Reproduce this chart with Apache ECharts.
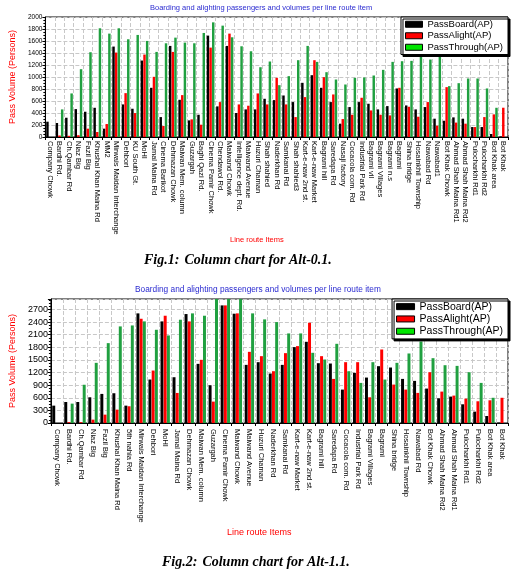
<!DOCTYPE html>
<html>
<head>
<meta charset="utf-8">
<script src="https://cdn.jsdelivr.net/npm/echarts@6/dist/echarts.min.js"></script>
<style>
html,body{margin:0;padding:0;background:#fff;}
#c{width:513px;height:574px;}
</style>
</head>
<body>
<div id="c"></div>
<script>
// ---------- Fig.1 (Alt-0.1) ----------
const cats1 = ['Company Chowk','Bardhi Rd.','Ch.Qambar Rd','Niaz Big','Fazil Big','Khushal Khan Maina Rd','MM2','Mirwais Maidan Interchange','Dehbori','KU South Gt.','MoHI','Jamal Maina Rd','Cinema Barikot','Dehmazan Chowk','Maiwan Mem. column','Guzargah','Baghi Qazi Rd.','Cinema Pamir Chowk','Chendawol Rd.','Maiwand Chowk','Intelligence dept. Rd.','Maiwand Avenue','Huzuri Chaman','Shah shahied','Naderkhan Rd','Samkanai Rd','Shah shahied3','Kart-e-naw 2nd st.','Kart-e-naw Market','Bagrami hill','Saredapa Rd','Nasaji factory','Cocacola com. Rd','Industrial Park Rd','Bagrami vil','Bagrami Villages','Bagrami n.s','Bagrami','Shina bridge','Hosainkhil Township','Nawabad Rd','Nawabad1','Bot Khak Chowk','Ahmad Shah Maina Rd1','Ahmad Shah Maina Rd2','Pulocharkhi Rd1','Pulocharkhi Rd2','Bot Khak area','Bot Khak'];
const board1 = [255,233,321,465,421,487,139,1507,543,471,1274,820,332,1518,620,277,371,1690,510,1518,400,460,460,637,615,692,582,903,1030,820,582,222,499,582,554,460,515,809,526,460,499,305,271,327,305,166,166,50,10];
const alight1 = [0,25,20,30,139,83,216,1407,731,399,1374,1003,183,1418,698,294,205,1490,582,1723,543,521,726,543,986,543,332,665,1280,997,709,299,371,654,443,371,360,820,504,338,582,188,831,240,222,166,332,377,488];
const through1 = [0,460,726,1130,1413,1812,1723,1812,1629,1701,1601,1418,1562,1656,1573,1562,1734,1911,1856,1662,1512,1429,1163,1258,864,1014,1280,1518,1252,1080,958,875,986,992,1025,1119,1252,1263,1269,1450,1291,1450,848,897,975,975,809,487,0];

// ---------- Fig.2 (Alt-1.1) ----------
const cats2 = ['Company Chowk','Bardhi Rd.','Ch.Qambar Rd','Niaz Big','Fazil Big','Khushal Khan Maina Rd','5th nahia Rd','Mirwais Maidan Interchange','Dehbori','MoHI','Jamal Maina Rd','Dehmazan Chowk','Maiwan Mem. column','Guzargah','Cinema Pamir Chowk','Maiwand Chowk','Maiwand Avenue','Huzuri Chaman','Naderkhan Rd','Samkanai Rd','Kart-e-naw Market','Kart-e-naw 2nd st.','Bagrami hill','Saredapa Rd','Cocacola com. Rd','Industrial Park Rd','Bagrami Villages','Bagrami','Shina bridge','Hosainkhil Township','Nawabad Rd','Bot Khak Chowk','Ahmad Shah Maina Rd2','Ahmad Shah Maina Rd1','Pulocharkhi Rd1','Pulocharkhi Rd2','Bot Khak area','Bot Khak'];
const board2 = [413,500,500,612,692,708,413,2608,1034,2417,1089,2592,1407,898,2798,2600,1383,1447,1177,1383,1805,1932,1423,1415,795,1193,1081,1352,1320,1049,1002,819,588,628,445,270,167,10];
const alight2 = [0,20,20,80,199,318,398,2480,1248,2552,715,2417,1503,509,2798,2608,1693,1590,1232,1662,1829,2385,1590,1049,1447,1447,612,1749,914,795,716,1208,747,652,580,517,540,600];
const through2 = [0,461,910,1431,1900,2298,2321,2417,2218,2083,2457,2608,2552,3100,3300,3200,2608,2465,2401,2131,2131,1670,1510,1884,1232,954,1447,1034,1431,1654,1940,1542,1375,1359,1208,954,600,0];

const seriesNames = ['PassBoard(AP)','PassAlight(AP)','PassThrough(AP)'];
const chartTitle = 'Boarding and alighting passengers and volumes per line route item';
const xName = 'Line route Items';
const yName = 'Pass Volume (Persons)';

const FONT = 'Liberation Sans, Arial, sans-serif';
const SERIF = 'Liberation Serif, Times New Roman, serif';
const colBar = ['#000000', '#ff0000', '#20a040'];
const colLegend = ['#000000', '#ff0000', '#00e600'];

function xAxisCfg(grid, cats, margin) {
  return {
    type: 'category', gridIndex: grid, data: cats,
    axisLine: {lineStyle: {color: '#000'}},
    axisTick: {show: true, interval: 0, length: 3, lineStyle: {color: '#000'}},
    axisLabel: {interval: 0, rotate: -90, fontSize: 7.5, margin: margin, color: '#000', fontFamily: FONT},
    splitLine: {show: true, interval: 0, lineStyle: {type: 'dashed', color: '#c8c8c8'}}
  };
}
function yAxisCfg(grid, max, interval, labelSize, gap, showMax) {
  return {
    type: 'value', gridIndex: grid, min: 0, max: max, interval: interval,
    name: yName, nameLocation: 'middle', nameGap: gap,
    nameTextStyle: {color: '#ff0000', fontSize: 9, fontFamily: FONT},
    axisLine: {show: true, lineStyle: {color: '#000'}},
    axisTick: {show: true, length: 3, lineStyle: {color: '#000'}},
    minorTick: {show: true, splitNumber: 4, length: 2, lineStyle: {color: '#000'}},
    axisLabel: {fontSize: labelSize, color: '#000', margin: 3, fontFamily: FONT, showMaxLabel: showMax,
      formatter: v => String(v)},
    splitLine: {show: true, lineStyle: {type: 'dashed', color: '#c8c8c8'}}
  };
}
function legendCfg(top, fontSize, itemW, lh) {
  return {
    top: top, right: 5, orient: 'vertical', z: 20,
    icon: 'rect', itemWidth: itemW, itemHeight: 6, itemGap: 1,
    padding: [2, 5, 2, 4],
    backgroundColor: '#fff', borderColor: '#000', borderWidth: 1,
    shadowColor: '#000', shadowBlur: 0, shadowOffsetX: 2, shadowOffsetY: 2,
    textStyle: {fontSize: fontSize, color: '#000', fontFamily: FONT, lineHeight: lh},
    data: seriesNames.map((n, i) => ({name: n, itemStyle: {color: colLegend[i], borderColor: '#000', borderWidth: 1}}))
  };
}
function barSeries(grid, datas, catGap) {
  return datas.map((d, i) => ({
    name: seriesNames[i], type: 'bar', xAxisIndex: grid, yAxisIndex: grid,
    data: d, itemStyle: {color: colBar[i]},
    barGap: '8%', barCategoryGap: catGap
  }));
}
function textTitle(text, left, top, size, color) {
  return {text: text, left: left, top: top, padding: 0,
    textStyle: {fontSize: size, color: color, fontWeight: 'normal', fontFamily: FONT}};
}
function caption(label, rest, left, top) {
  return {
    text: '{b|' + label + '} {i|' + rest + '}', left: left, top: top, padding: 0,
    textStyle: {rich: {
      b: {fontFamily: SERIF, fontStyle: 'italic', fontWeight: 'bold', fontSize: 14, color: '#000'},
      i: {fontFamily: SERIF, fontStyle: 'italic', fontSize: 14, color: '#000'}
    }}
  };
}

const chart = echarts.init(document.getElementById('c'), null, {renderer: 'canvas'});
chart.setOption({
  animation: false,
  backgroundColor: '#fff',
  textStyle: {fontFamily: FONT},
  title: [
    textTitle(chartTitle, 150, 4, 7.5, '#2a2ad0'),
    textTitle(chartTitle, 135, 286, 8.3, '#2a2ad0'),
    textTitle(xName, 230, 236, 7.5, '#ff0000'),
    textTitle(xName, 227, 528, 9, '#ff0000'),
    caption('Fig.1:', 'Column chart for Alt-0.1.', 144, 251),
    caption('Fig.2:', 'Column chart for Alt-1.1.', 162, 553)
  ],
  legend: [legendCfg(17, 9.5, 17, 10.5), legendCfg(299, 10.5, 18, 11.3)],
  grid: [
    {left: 38, top: 17, right: 5, height: 120, show: true, borderColor: '#000', borderWidth: 1},
    {left: 50, top: 299, right: 5, height: 124, show: true, borderColor: '#000', borderWidth: 1}
  ],
  xAxis: [xAxisCfg(0, cats1, 4), xAxisCfg(1, cats2, 6)],
  yAxis: [yAxisCfg(0, 2000, 200, 6.5, 22, true), yAxisCfg(1, 2950, 300, 9, 30, false)],
  series: [].concat(
    barSeries(0, [board1, alight1, through1], '18%'),
    barSeries(1, [board2, alight2, through2], '22%')
  )
});
</script>
</body>
</html>
